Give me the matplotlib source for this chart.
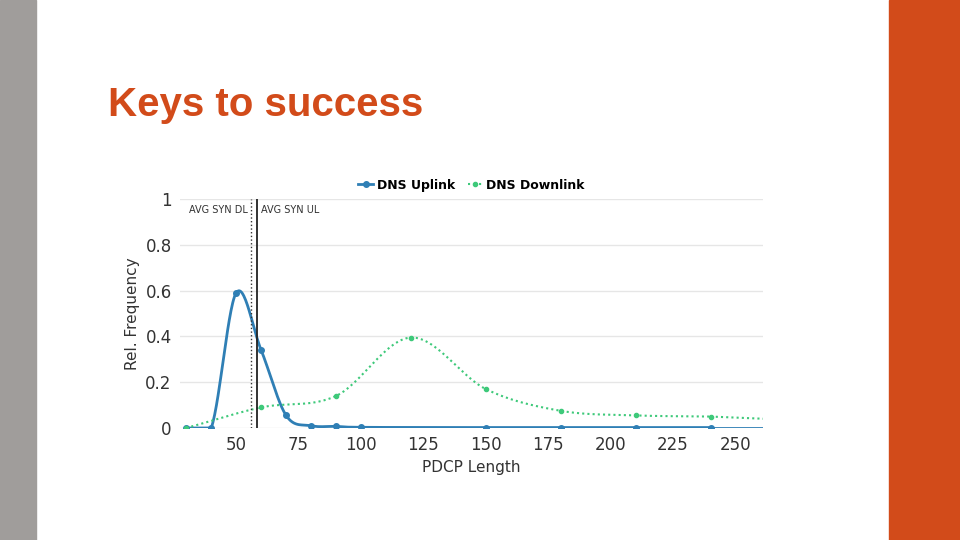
import numpy as np
import matplotlib
matplotlib.use("Agg")
import matplotlib.pyplot as plt
from matplotlib.patches import Rectangle
from matplotlib.lines import Line2D

up_x = [30, 40, 50, 60, 70, 80, 90, 100, 150, 180, 210, 240]
up_y = [0.0, 0.0, 0.59, 0.34, 0.055, 0.01, 0.007, 0.003, 0.002, 0.002, 0.002, 0.002]
dn_x = [30, 60, 90, 120, 150, 180, 210, 240]
dn_y = [0.0, 0.09, 0.14, 0.395, 0.17, 0.075, 0.055, 0.05]
avg_dl, avg_ul = 56, 58.3

def smooth(x, y, n=30):
    x = np.asarray(x, float); y = np.asarray(y, float)
    px = np.concatenate([[2*x[0]-x[1]], x, [2*x[-1]-x[-2]]])
    py = np.concatenate([[2*y[0]-y[1]], y, [2*y[-1]-y[-2]]])
    ox, oy = [], []
    for i in range(1, len(px)-2):
        t = np.linspace(0, 1, n)
        for arr, out in ((px, ox), (py, oy)):
            p0, p1, p2, p3 = arr[i-1:i+3]
            out.extend(0.5*((2*p1) + (-p0+p2)*t + (2*p0-5*p1+4*p2-p3)*t**2 + (-p0+3*p1-3*p2+p3)*t**3))
    return np.array(ox), np.clip(np.array(oy), 0, None)

fig = plt.figure(figsize=(9.6, 5.4), dpi=100)
fig.patches.append(Rectangle((0, 0), 36/960, 1, transform=fig.transFigure, color="#a09d9b"))
fig.patches.append(Rectangle((889/960, 0), 71/960, 1, transform=fig.transFigure, color="#d24b1a"))
fig.text(108/960, 1-105/540, "Keys to success", fontsize=29, fontweight="bold",
         color="#d24b1a", family="Liberation Sans", va="center")

ax = fig.add_axes([180/960, 112/540, 583/960, 229/540])
blue, green = "#2f7fb5", "#3ec97a"
sx, sy = smooth(up_x, up_y)
ax.plot(sx, sy, color=blue, lw=2)
ax.plot(up_x, up_y, "o", color=blue, ms=4)
ax.plot([240, 262], [0.002, 0.002], color=blue, lw=2)
dx, dy = smooth(dn_x, dn_y)
ax.plot(dx, dy, color=green, lw=1.5, ls=(0, (1, 1.5)))
ax.plot(dn_x, dn_y, "o", color=green, ms=3)
ax.plot([240, 262], [0.05, 0.04], color=green, lw=1.5, ls=(0, (1, 1.5)))
ax.axvline(avg_dl, color="#333333", lw=1, ls=":")
ax.axvline(avg_ul, color="#222222", lw=1.3)
ax.text(avg_dl-1.5, 0.975, "AVG SYN DL", ha="right", va="top", fontsize=7, color="#333333")
ax.text(avg_ul+1.5, 0.975, "AVG SYN UL", ha="left", va="top", fontsize=7, color="#333333")

ax.set_xlim(27.5, 261)
ax.set_ylim(0, 1)
ax.set_xticks([50, 75, 100, 125, 150, 175, 200, 225, 250])
ax.set_yticks([0, 0.2, 0.4, 0.6, 0.8, 1])
ax.set_yticklabels(["0", "0.2", "0.4", "0.6", "0.8", "1"])
ax.grid(axis="y", color="#e6e6e6", lw=1)
ax.set_axisbelow(True)
for s in ax.spines.values():
    s.set_visible(False)
ax.tick_params(length=0, labelsize=12, colors="#333333", pad=6)
ax.set_xlabel("PDCP Length", fontsize=11, color="#333333", labelpad=4)
ax.set_ylabel("Rel. Frequency", fontsize=11, color="#333333", labelpad=4)
handles = [Line2D([], [], color=blue, lw=2, marker="o", ms=4),
           Line2D([], [], color=green, lw=1.5, ls=":", marker="o", ms=3)]
ax.legend(handles, ["DNS Uplink", "DNS Downlink"], loc="lower center", bbox_to_anchor=(0.5, 1.0),
          ncol=2, frameon=False, prop={"weight": "bold", "size": 9}, handlelength=1.2,
          columnspacing=1, handletextpad=0.3, borderaxespad=0.2)
fig.savefig("out.png", dpi=100)
